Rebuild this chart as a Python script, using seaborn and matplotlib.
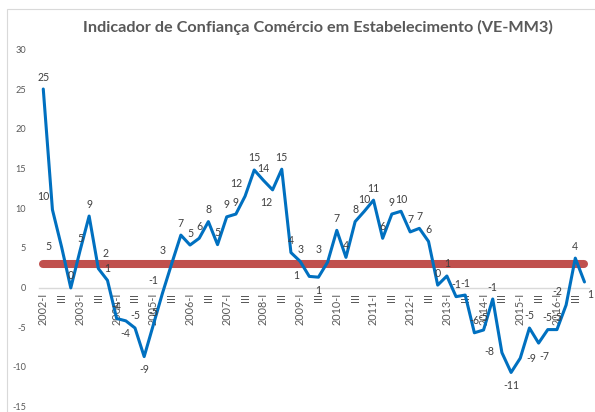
import numpy as np
import pandas as pd
import matplotlib
matplotlib.use('Agg')
import matplotlib.pyplot as plt
from matplotlib.patches import Rectangle
import seaborn as sns

# quarterly series, 2002-I .. 2016-IV
anos = list(range(2002, 2017))
trimestres = ['I', 'II', 'III', 'IV']
valores = [
    25.0, 9.8, 5.1, -0.05,
    4.6, 9.0, 2.4, 0.9,
    -3.9, -4.2, -5.1, -8.7,
    -4.7, -0.7, 3.0, 6.6,
    5.35, 6.2, 8.3, 5.4,
    8.9, 9.25, 11.5, 14.8,
    13.5, 12.3, 14.9, 4.4,
    3.3, 1.4, 1.3, 3.2,
    7.2, 3.8, 8.3, 9.6,
    11.0, 6.2, 9.25, 9.6,
    7.0, 7.45, 5.8, 0.3,
    1.45, -1.15, -0.95, -5.7,
    -5.35, -1.45, -8.2, -10.7,
    -8.9, -5.1, -7.0, -5.3,
    -5.3, -2.2, 3.7, 0.7,
]
media = 3.0
y_ticks = [-15, -10, -5, 0, 5, 10, 15, 20, 25, 30]

# where each data label sits relative to its point
pos_rotulo = ['a', 'al', 'l', 'a', 'a', 'a', 'ar', 'a', 'a', 'b',
              'a', 'b', 'a', 'al', 'al', 'a', 'a', 'a', 'a', 'a',
              'a', 'a', 'al', 'a', 'a', 'bl', 'a', 'a', 'a', 'l',
              'b', 'al', 'a', 'a', 'a', 'a', 'a', 'a', 'a', 'a',
              'a', 'a', 'a', 'a', 'a', 'a', 'a', 'a', 'a', 'a',
              'l', 'b', 'r', 'a', 'br', 'a', 'a', 'al', 'a', 'br']
offsets = {'a': (0, 12), 'b': (0, -13), 'l': (-13, 1), 'r': (11, 0),
           'al': (-9, 13), 'ar': (7, 15), 'bl': (-6, -13), 'br': (6, -13)}

rotulos = []
for ano in anos:
    for t in trimestres:
        rotulos.append(f'{ano}-I' if t == 'I' else t)

df = pd.DataFrame({'idx': np.arange(len(valores)), 'valor': valores,
                   'media': [media] * len(valores)})

sns.set_theme(style='white')
plt.rcParams['font.family'] = ['Lato', 'DejaVu Sans']

fig = plt.figure(figsize=(5.95, 4.12), dpi=100)
ax = fig.add_axes([0.065, 0.0131, 0.925, 0.8672])

sns.lineplot(data=df, x='idx', y='media', ax=ax, color='#C0504D', linewidth=5.8,
             solid_capstyle='round', zorder=2)
sns.lineplot(data=df, x='idx', y='valor', ax=ax, color='#0070C0', linewidth=2.2,
             zorder=3)

cinza = '#595959'
for i, v in enumerate(valores):
    dx, dy = offsets[pos_rotulo[i]]
    ax.annotate(f'{round(v):d}', (i, v), xytext=(dx, dy), textcoords='offset pixels',
                ha='center', va='center', fontsize=7.6, color='#3F3F3F', zorder=4)

ax.set_xlim(-0.5, len(valores) - 0.5)
ax.set_ylim(-15, 30)
ax.set_xlabel('')
ax.set_ylabel('')
ax.tick_params(axis='both', length=0)
ax.tick_params(axis='x', pad=4, labelrotation=90, labelsize=7.8, labelcolor=cinza)
ax.tick_params(axis='y', pad=9, labelsize=6.6, labelcolor=cinza)
ax.set_yticks(y_ticks)
ax.set_yticklabels([str(t) for t in y_ticks])
ax.set_xticks(range(0, len(valores), 2))
ax.set_xticklabels(rotulos[::2])
for lab in ax.get_xticklabels():
    lab.set_rotation(90)
    lab.set_va('top')
    lab.set_ha('center')

for s in ['top', 'right', 'left']:
    ax.spines[s].set_visible(False)
ax.spines['bottom'].set_position(('data', 0))
ax.spines['bottom'].set_color('#D9D9D9')
ax.spines['bottom'].set_linewidth(1)
ax.set_facecolor('none')

fig.patches.append(Rectangle((7 / 595, -0.1), 1.2, 1.1 - 9 / 412, transform=fig.transFigure,
                             fill=False, edgecolor='#D9D9D9', linewidth=0.8))

fig.text(0.534, 0.934, 'Indicador de Confiança Comércio em Estabelecimento (VE-MM3)',
         ha='center', va='center', fontsize=11.7, fontweight='bold', color=cinza)

fig.savefig('out.png', dpi=100)
